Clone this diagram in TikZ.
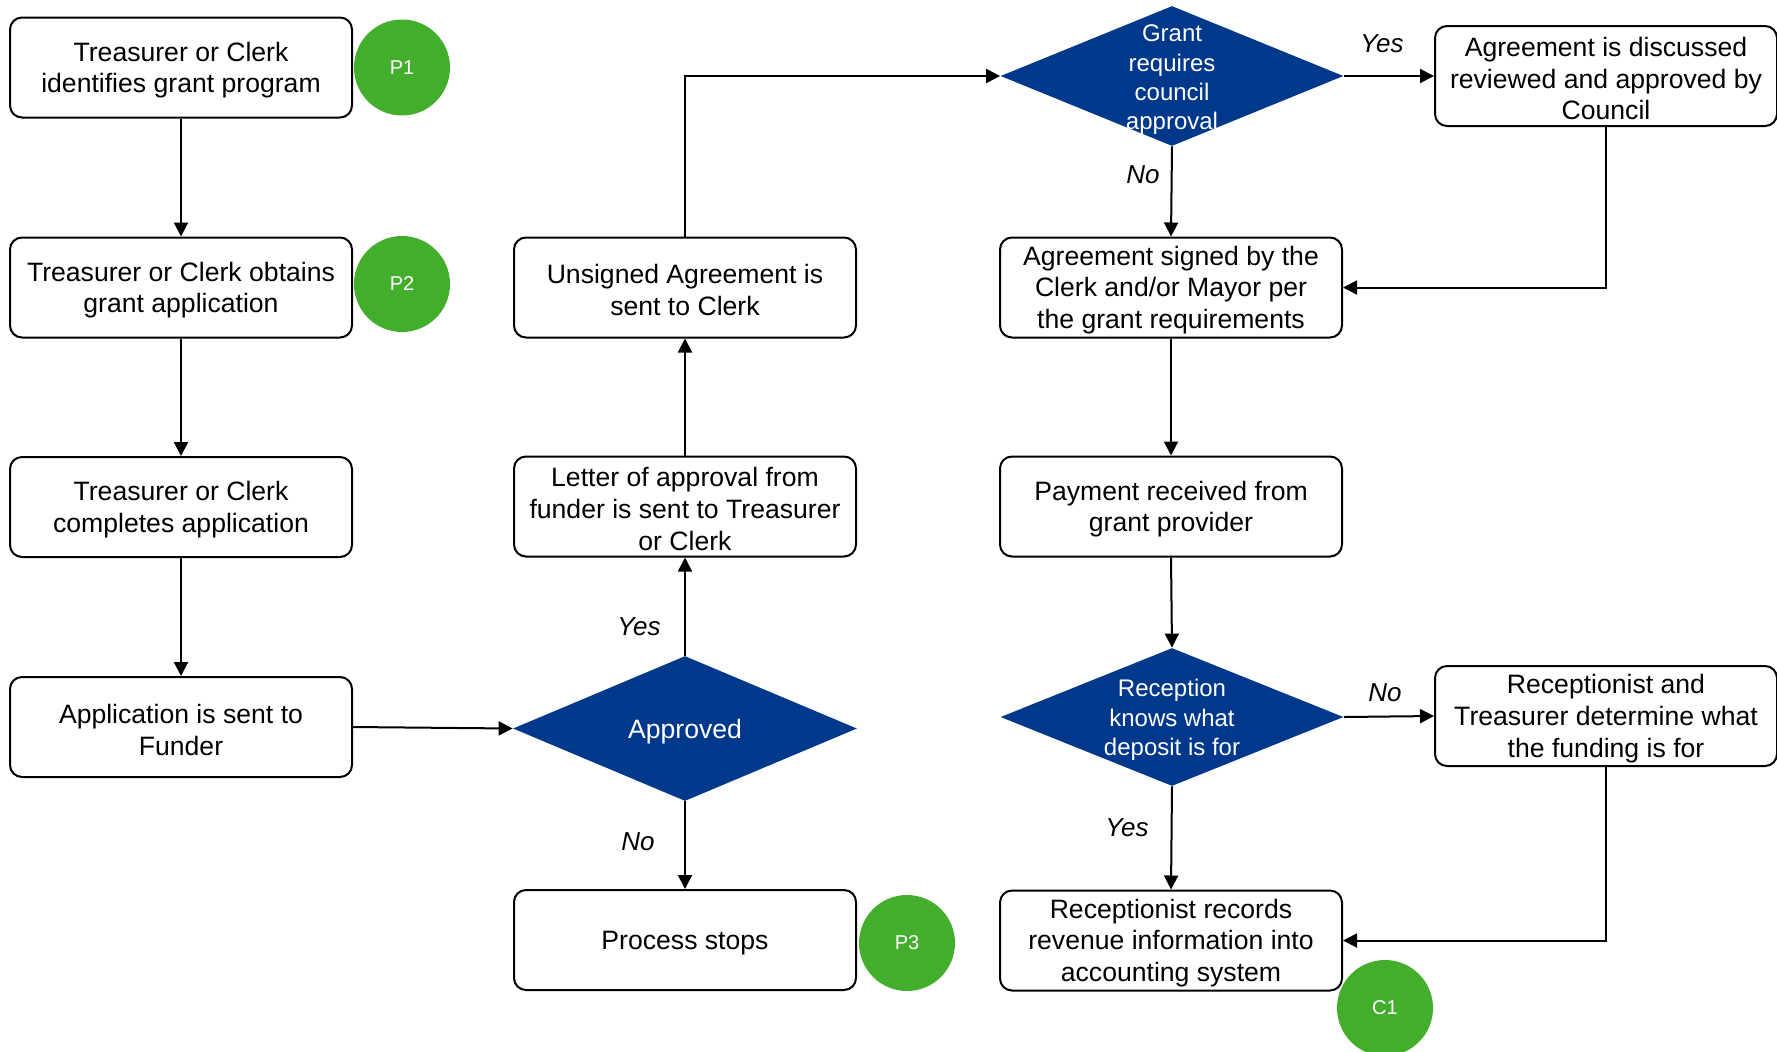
\documentclass[tikz,border=0pt]{standalone}
\usepackage{fontspec}
\setmainfont{Liberation Sans}
\usetikzlibrary{shapes.geometric,arrows.meta}
\definecolor{dblue}{RGB}{0,56,140}
\definecolor{pgreen}{RGB}{67,174,44}
\newcommand\mybox[4][]{%
  \node[box,#1] (#2) at (#3) {};
  \node[boxtext] (#2t) at ([yshift=-1.3pt]#2.center) {#4};}
\begin{document}
\begin{tikzpicture}[x=0.5pt,y=-0.5pt,
 box/.style={draw=black,line width=1pt,rounded corners=6pt,minimum width=171pt,minimum height=50pt,inner sep=0pt},
 boxtext/.style={align=center,font=\fontsize{13.3}{15.9}\selectfont,inner sep=0pt},
 dia/.style={diamond,fill=dblue,inner sep=0pt},
 dtext/.style={text=white,align=center,inner sep=0pt},
 badge/.style={circle,fill=pgreen,minimum size=48pt,inner sep=0pt,text=white,font=\fontsize{10}{12}\selectfont},
 lbl/.style={font=\fontsize{13}{15}\selectfont\itshape,inner sep=0pt},
 arr/.style={line width=1pt,-{Triangle[length=7pt,width=7pt]}},
]
\useasboundingbox[fill=white] (0,0) rectangle (1777,1051);

% left column
\mybox{b1}{181,67.5}{Treasurer or Clerk\\identifies grant program}
\mybox{b2}{181,287.5}{Treasurer or Clerk obtains\\grant application}
\mybox{b3}{181,507}{Treasurer or Clerk\\completes application}
\mybox{b4}{181,727}{Application is sent to\\Funder}

% middle column
\mybox{uns}{685,287.5}{Unsigned Agreement is\\sent to Clerk}
\mybox{let}{685,506.5}{Letter of approval from\\funder is sent to Treasurer\\or Clerk}
\node[dia,minimum width=172pt,minimum height=72.5pt] (ap) at (685,728.5) {};
\node[dtext,font=\fontsize{13.3}{15.9}\selectfont] (apt) at (685,732) {Approved};
\mybox{stp}{685,940}{Process stops}

% right column
\node[dia,minimum width=171.5pt,minimum height=70pt] (gq) at (1172,76) {};
\node[dtext,font=\fontsize{12}{14.7}\selectfont] (gqt) at (1172,80) {Grant\\requires\\council\\approval};
\mybox{sig}{1171,287.5}{Agreement signed by the\\Clerk and/or Mayor per\\the grant requirements}
\mybox{pay}{1171,506.5}{Payment received from\\grant provider}
\node[dia,minimum width=171.5pt,minimum height=69pt] (rec) at (1172,717) {};
\node[dtext,font=\fontsize{12}{14.7}\selectfont] (rect) at (1172,720) {Reception\\knows what\\deposit is for};
\mybox{recs}{1171,940.5}{Receptionist records\\revenue information into\\accounting system}

% far right column
\mybox[minimum width=171pt]{disc}{1606,76}{Agreement is discussed\\reviewed and approved by\\Council}
\mybox[minimum width=171pt]{rt}{1606,716}{Receptionist and\\Treasurer determine what\\the funding is for}

% badges
\node[badge] (p1) at (402,67.5) {P1};
\node[badge] (p2) at (402,284) {P2};
\node[badge] (p3) at (907,943) {P3};
\node[badge] (c1) at (1385,1008) {C1};

% connectors
\draw[arr] (b1) -- (b2);
\draw[arr] (b2) -- (b3);
\draw[arr] (b3) -- (b4);
\draw[arr] (b4.east) -- (ap.west);
\draw[arr] (ap.north) -- (let.south);
\draw[arr] (ap.south) -- (stp.north);
\draw[arr] (let) -- (uns);
\draw[arr] (uns.north) |- (gq.west);
\draw[arr] (gq.east) -- (disc.west);
\draw[arr] (gq.south) -- (sig.north);
\draw[arr] (disc.south) |- (sig.east);
\draw[arr] (sig.south) -- (pay.north);
\draw[arr] (pay.south) -- (rec.north);
\draw[arr] (rec.east) -- (rt.west);
\draw[arr] (rec.south) -- (recs.north);
\draw[arr] (rt.south) |- (recs.east);

% labels
\node[lbl] (l1) at (1382,44) {Yes};
\node[lbl] (l2) at (1143,175) {No};
\node[lbl] (l3) at (639,627) {Yes};
\node[lbl] (l4) at (638,842) {No};
\node[lbl] (l5) at (1385,693) {No};
\node[lbl] (l6) at (1127,828) {Yes};
\end{tikzpicture}
\end{document}
